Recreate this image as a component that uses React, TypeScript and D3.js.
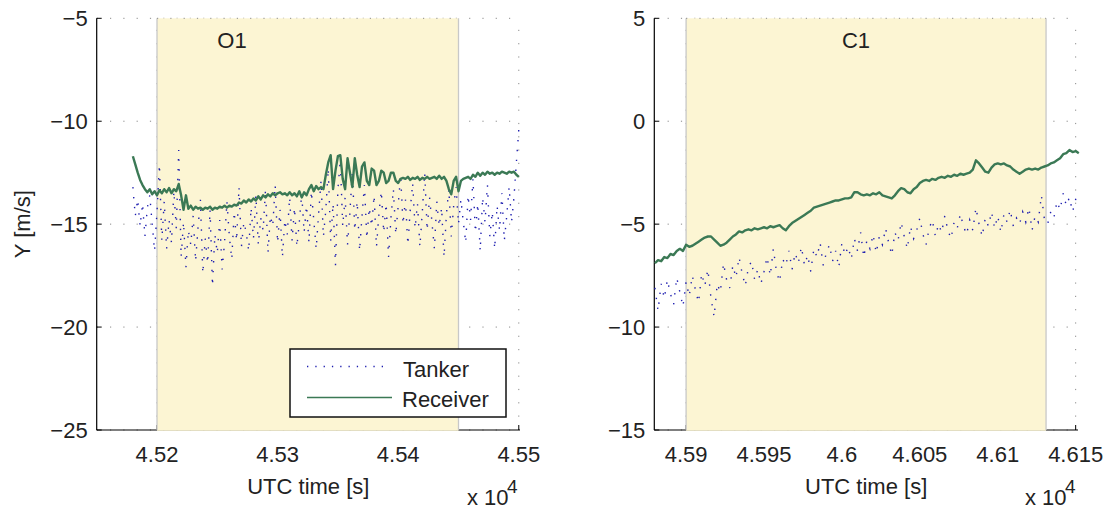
import React from "react";
import * as d3 from "d3";

// ---------- DATA ----------
// sample grid: start time [s] and step [s] for each panel
const leftStart = 45180;
const rightStart = 45880;
const sampleStep = 2;

const leftReceiver = [
  -11.7, -12.1, -12.5, -12.85, -13.1, -13.3, -13.45, -13.3, -13.55, -13.4,
  -13.6, -13.35, -13.5, -13.3, -13.45, -13.25, -13.5, -13.3, -13.4, -13.05,
  -13.6, -14.3, -13.6, -14.25, -14.1, -14.3, -14.15, -14.25, -14.2, -14.3,
  -14.2, -14.25, -14.15, -14.3, -14.2, -14.25, -14.15, -14.2, -14.1, -14.2,
  -14.1, -14.15, -14.05, -14.1, -13.95, -14.0, -13.85, -13.95, -13.8, -13.9,
  -13.75, -13.85, -13.65, -13.8, -13.6, -13.7, -13.55, -13.65, -13.5, -13.6,
  -13.5, -13.45, -13.55, -13.5, -13.6, -13.45, -13.6, -13.5, -13.65, -13.4,
  -13.7, -13.45, -13.6, -13.3, -13.1, -13.4, -13.15, -13.3, -13.2, -13.3,
  -12.6, -12.0, -11.65, -13.3, -12.4, -11.7, -11.65, -12.8, -13.3, -11.8,
  -12.5, -13.2, -11.8, -12.6, -13.2, -12.2, -12.0, -12.9, -13.1, -12.3,
  -12.4, -13.1, -12.9, -12.4, -12.5, -13.0, -12.9, -12.5, -12.5, -12.9,
  -13.0, -12.8, -12.75, -12.8, -12.7, -12.85, -12.75, -12.8, -12.7, -12.85,
  -12.75, -12.8, -12.7, -12.8, -12.75, -12.7, -12.8, -12.65, -12.8, -12.7,
  -12.9, -13.3, -13.55, -12.9, -12.7, -13.4, -12.9, -12.8, -12.75, -12.7,
  -12.8, -12.6, -12.7, -12.5, -12.65, -12.5, -12.6, -12.45, -12.55, -12.5,
  -12.6, -12.5, -12.55, -12.45, -12.5, -12.55, -12.45, -12.5, -12.45, -12.6,
  -12.7,
];

const leftTanker = [
  -13.2, -14.6, -13.8, -15.1, -14.0, -15.6, -14.2, -13.6, -15.0, -16.3,
  -14.4, -12.1, -15.8, -13.9, -16.2, -14.8, -15.9, -13.4, -15.2, -11.4,
  -16.6, -14.9, -17.1, -15.3, -16.0, -14.6, -16.8, -15.2, -13.8, -17.4,
  -15.7, -16.9, -14.3, -18.0, -15.5, -16.4, -14.8, -17.2, -15.9, -13.9,
  -15.6, -16.7, -14.4, -15.8, -13.2, -16.1, -14.9, -15.4, -16.3, -14.2,
  -15.7, -13.6, -16.0, -14.7, -15.3, -13.3, -16.4, -14.6, -15.1, -13.1,
  -15.9, -14.3, -16.6, -14.8, -15.5, -13.7, -15.8, -14.2, -16.1, -14.9,
  -13.5, -15.4, -14.1, -15.9, -13.4, -14.8, -16.2, -14.5, -12.9, -15.6,
  -14.3, -12.3, -15.8, -14.0, -17.0, -13.3, -11.9, -15.1, -13.7, -16.0,
  -14.4, -12.4, -15.3, -13.9, -16.3, -14.6, -13.1, -15.7, -14.2, -15.1,
  -13.6, -16.1, -14.5, -13.4, -15.4, -14.0, -16.6, -14.7, -13.3, -15.5,
  -14.1, -12.6, -15.0, -13.8, -16.0, -14.3, -13.0, -15.2, -14.0, -16.1,
  -14.4, -12.5, -15.3, -13.7, -14.9, -16.2, -13.9, -15.1, -14.2, -16.6,
  -14.5, -13.3, -15.6, -14.1, -13.2, -15.0, -13.8, -14.9, -15.9, -13.6,
  -14.8, -12.8, -15.4, -14.0, -16.3, -13.7, -14.9, -13.1, -15.6, -14.4,
  -16.2, -14.1, -15.3, -13.5, -15.8, -14.6, -13.2, -14.9, -13.7, -12.0,
  -10.4,
];

const rightReceiver = [
  -6.9, -6.75, -6.8, -6.6, -6.65, -6.45, -6.5, -6.3, -6.2, -6.3,
  -6.0, -6.1, -6.05, -5.95, -5.85, -5.75, -5.65, -5.6, -5.6, -5.75,
  -5.9, -6.05, -6.0, -5.9, -5.75, -5.6, -5.5, -5.35, -5.4, -5.3,
  -5.25, -5.3, -5.2, -5.25, -5.2, -5.15, -5.2, -5.1, -5.15, -5.1,
  -5.05, -5.2, -5.3, -5.1, -4.95, -4.85, -4.75, -4.65, -4.55, -4.45,
  -4.35, -4.2, -4.15, -4.1, -4.05, -4.0, -3.95, -3.9, -3.85, -3.85,
  -3.8, -3.75, -3.75, -3.7, -3.45, -3.45, -3.55, -3.6, -3.55, -3.6,
  -3.5, -3.55, -3.45, -3.6, -3.65, -3.7, -3.75, -3.6, -3.4, -3.25,
  -3.3, -3.45, -3.5, -3.3, -3.2, -3.0, -2.9, -2.85, -2.9, -2.8,
  -2.85, -2.75, -2.7, -2.75, -2.65, -2.7, -2.6, -2.65, -2.55, -2.6,
  -2.55, -2.5, -2.35, -1.9, -2.05, -2.25, -2.45, -2.5, -2.25, -2.1,
  -2.05, -2.1, -2.05, -2.15, -2.2, -2.35, -2.45, -2.55, -2.45, -2.35,
  -2.3, -2.35, -2.3, -2.35, -2.25, -2.2, -2.15, -2.05, -2.0, -1.9,
  -1.8, -1.6, -1.55, -1.4, -1.5, -1.45, -1.55,
];

const rightTanker = [
  -8.1, -9.2, -7.9, -8.6, -7.7, -8.4, -8.9, -7.6, -8.3, -9.0,
  -7.8, -8.5, -7.5, -8.2, -8.8, -7.4, -8.0, -7.2, -8.6, -9.5,
  -7.9, -8.3, -6.9, -7.7, -8.1, -7.0, -7.6, -6.6, -7.4, -8.0,
  -7.1, -6.8, -7.7, -7.2, -7.9, -7.3, -6.6, -7.5, -6.2, -7.3,
  -7.8, -6.7, -7.0, -6.3, -7.2, -6.4, -6.9, -6.1, -7.0, -6.5,
  -7.3, -6.2, -6.6, -5.9, -7.0, -6.4, -6.0, -6.8, -6.3, -7.1,
  -5.9, -6.5, -6.1, -6.7, -5.7, -6.3, -5.4, -6.6, -5.8, -6.2,
  -5.5, -6.4, -5.6, -6.0, -5.2, -5.9, -6.5, -5.4, -5.8, -4.9,
  -5.6, -6.2, -5.1, -5.7, -5.3, -4.7, -5.5, -6.0, -5.2, -4.8,
  -5.6, -5.0, -5.4, -4.6, -5.3, -5.7, -4.9, -5.2, -4.5, -5.1,
  -5.5, -4.8, -5.3, -4.2, -5.0, -5.6, -4.7, -5.1, -4.4, -5.2,
  -4.6, -5.4, -4.5, -4.9, -4.3, -5.1, -4.7, -5.0, -4.4, -4.9,
  -4.2, -5.3, -4.6, -4.9, -3.6, -4.8, -5.0, -4.4, -4.7, -3.9,
  -4.3, -3.5, -4.1, -3.7, -4.4, -3.8, -3.4,
];

const leftXTicks = [45200, 45300, 45400, 45500];
const leftXTickLabels = ["4.52", "4.53", "4.54", "4.55"];
const rightXTicks = [45900, 45950, 46000, 46050, 46100, 46150];
const rightXTickLabels = ["4.59", "4.595", "4.6", "4.605", "4.61", "4.615"];
const leftYTicks = [-25, -20, -15, -10, -5];
const rightYTicks = [-15, -10, -5, 0, 5];

const leftXDomain = [45150, 45501];
const rightXDomain = [45879.6, 46151.5];
const leftYDomain = [-25, -5];
const rightYDomain = [-15, 5];
const leftPhase = [45200, 45450];
const rightPhase = [45900, 46131];
const leftPhaseName = "O1";
const rightPhaseName = "C1";
const leftLabelT = 45250;
const rightLabelT = 46000;

const seriesNames = ["Tanker", "Receiver"];

// ---------- STYLE ----------
const FONT = "'Liberation Sans', Arial, Helvetica, sans-serif";
const FS = 22;
const GREEN = "#3b7955";
const BLUE = "#1e1eb0";
const PATCH = "#fcf5d3";
const PATCH_EDGE = "#c8c8c8";
const GRID = "#8a8a8a";

const TOP = 18.3;
const BOTTOM = 430;

const fmtMinus = (v: number) => (v < 0 ? "\u2212" + Math.abs(v) : String(v));

type PanelProps = {
  x0: number;
  x1: number;
  xDomain: number[];
  yDomain: number[];
  xTicks: number[];
  xTickLabels: string[];
  yTicks: number[];
  phase: number[];
  phaseName: string;
  labelT: number;
  start: number;
  receiver: number[];
  tanker: number[];
  showYLabel: boolean;
  showLegend: boolean;
};

function Panel(p: PanelProps) {
  const x = d3.scaleLinear().domain(p.xDomain).range([p.x0, p.x1]);
  const y = d3.scaleLinear().domain(p.yDomain).range([BOTTOM, TOP]);
  const line = d3
    .line<number>()
    .x((_, i) => x(p.start + i * sampleStep))
    .y((d) => y(d));
  const ty = y(p.yDomain[1]);
  return (
    <g>
      {/* grid */}
      {p.yTicks.map((t) => (
        <line
          key={"gy" + t}
          x1={p.x0}
          x2={p.x1}
          y1={y(t)}
          y2={y(t)}
          stroke={GRID}
          strokeWidth={1}
          strokeDasharray="1.2 12.1"
        />
      ))}
      {p.xTicks.map((t) => (
        <line
          key={"gx" + t}
          x1={x(t)}
          x2={x(t)}
          y1={BOTTOM}
          y2={TOP}
          stroke={GRID}
          strokeWidth={1}
          strokeDasharray="1.2 12.1"
        />
      ))}
      {/* axes */}
      <line x1={p.x0} x2={p.x0} y1={TOP} y2={BOTTOM} stroke="#000" strokeWidth={1.2} />
      <line x1={p.x0} x2={p.x1} y1={BOTTOM} y2={BOTTOM} stroke="#000" strokeWidth={1.2} />
      {p.yTicks.map((t) => (
        <line key={"ty" + t} x1={p.x0} x2={p.x0 + 5} y1={y(t)} y2={y(t)} stroke="#000" strokeWidth={1} />
      ))}
      {p.xTicks.map((t) => (
        <line key={"tx" + t} x1={x(t)} x2={x(t)} y1={BOTTOM} y2={BOTTOM - 5} stroke="#000" strokeWidth={1} />
      ))}
      {/* phase patch */}
      <rect
        x={x(p.phase[0])}
        y={TOP}
        width={x(p.phase[1]) - x(p.phase[0])}
        height={BOTTOM - TOP + 0.8}
        fill={PATCH}
        stroke="none"
      />
      <line x1={x(p.phase[0])} x2={x(p.phase[0])} y1={TOP} y2={BOTTOM} stroke={PATCH_EDGE} strokeWidth={1.3} />
      <line x1={x(p.phase[1])} x2={x(p.phase[1])} y1={TOP} y2={BOTTOM} stroke={PATCH_EDGE} strokeWidth={1.3} />
      <line
        x1={x(p.phase[0])}
        x2={x(p.phase[1])}
        y1={ty}
        y2={ty}
        stroke={GRID}
        strokeWidth={1}
        strokeDasharray="1.2 12.1"
      />
      <text x={x(p.labelT)} y={48} fontFamily={FONT} fontSize={FS} fill="#222">
        {p.phaseName}
      </text>
      {/* data */}
      <path
        d={line(p.tanker) || ""}
        fill="none"
        stroke={BLUE}
        strokeWidth={1.4}
        strokeDasharray="1.4 8.5"
      />
      <path d={line(p.receiver) || ""} fill="none" stroke={GREEN} strokeWidth={2.4} strokeLinejoin="round" />
      {/* tick labels */}
      {p.yTicks.map((t) => (
        <text
          key={"ly" + t}
          x={p.x0 - 9}
          y={y(t) + 7.5}
          textAnchor="end"
          fontFamily={FONT}
          fontSize={FS}
          fill="#222"
        >
          {fmtMinus(t)}
        </text>
      ))}
      {p.xTicks.map((t, i) => (
        <text
          key={"lx" + t}
          x={x(t)}
          y={462}
          textAnchor="middle"
          fontFamily={FONT}
          fontSize={FS}
          fill="#222"
        >
          {p.xTickLabels[i]}
        </text>
      ))}
      <text
        x={(p.x0 + p.x1) / 2}
        y={494}
        textAnchor="middle"
        fontFamily={FONT}
        fontSize={FS}
        fill="#222"
      >
        UTC time [s]
      </text>
      <text x={p.x1 - 53} y={505} fontFamily={FONT} fontSize={FS} fill="#222">
        x 10
      </text>
      <text x={p.x1 - 13} y={493} fontFamily={FONT} fontSize={19} fill="#222">
        4
      </text>
      {p.showYLabel && (
        <text
          transform={`translate(30,${(TOP + BOTTOM) / 2}) rotate(-90)`}
          textAnchor="middle"
          fontFamily={FONT}
          fontSize={FS}
          fill="#222"
        >
          Y [m/s]
        </text>
      )}
      {p.showLegend && (
        <g>
          <rect x={290} y={349} width={216} height={68} fill="#fff" stroke="#111" strokeWidth={1.5} />
          <line x1={307} x2={390} y1={366.5} y2={366.5} stroke={BLUE} strokeWidth={1.3} strokeDasharray="1.3 7" />
          <line x1={307} x2={392} y1={397.5} y2={397.5} stroke={GREEN} strokeWidth={1.6} />
          <text x={403} y={376.5} fontFamily={FONT} fontSize={FS} fill="#222">
            {seriesNames[0]}
          </text>
          <text x={402} y={407} fontFamily={FONT} fontSize={FS} fill="#222">
            {seriesNames[1]}
          </text>
        </g>
      )}
    </g>
  );
}

export default function App() {
  return (
    <svg
      width={1111}
      height={510}
      style={{ position: "absolute", left: 0, top: 0, display: "block", background: "#fff" }}
    >
      <rect width={1111} height={510} fill="#fff" />
      <Panel
        x0={96.7}
        x1={520}
        xDomain={leftXDomain}
        yDomain={leftYDomain}
        xTicks={leftXTicks}
        xTickLabels={leftXTickLabels}
        yTicks={leftYTicks}
        phase={leftPhase}
        phaseName={leftPhaseName}
        labelT={leftLabelT}
        start={leftStart}
        receiver={leftReceiver}
        tanker={leftTanker}
        showYLabel={true}
        showLegend={true}
      />
      <Panel
        x0={654.3}
        x1={1078}
        xDomain={rightXDomain}
        yDomain={rightYDomain}
        xTicks={rightXTicks}
        xTickLabels={rightXTickLabels}
        yTicks={rightYTicks}
        phase={rightPhase}
        phaseName={rightPhaseName}
        labelT={rightLabelT}
        start={rightStart}
        receiver={rightReceiver}
        tanker={rightTanker}
        showYLabel={false}
        showLegend={false}
      />
    </svg>
  );
}
